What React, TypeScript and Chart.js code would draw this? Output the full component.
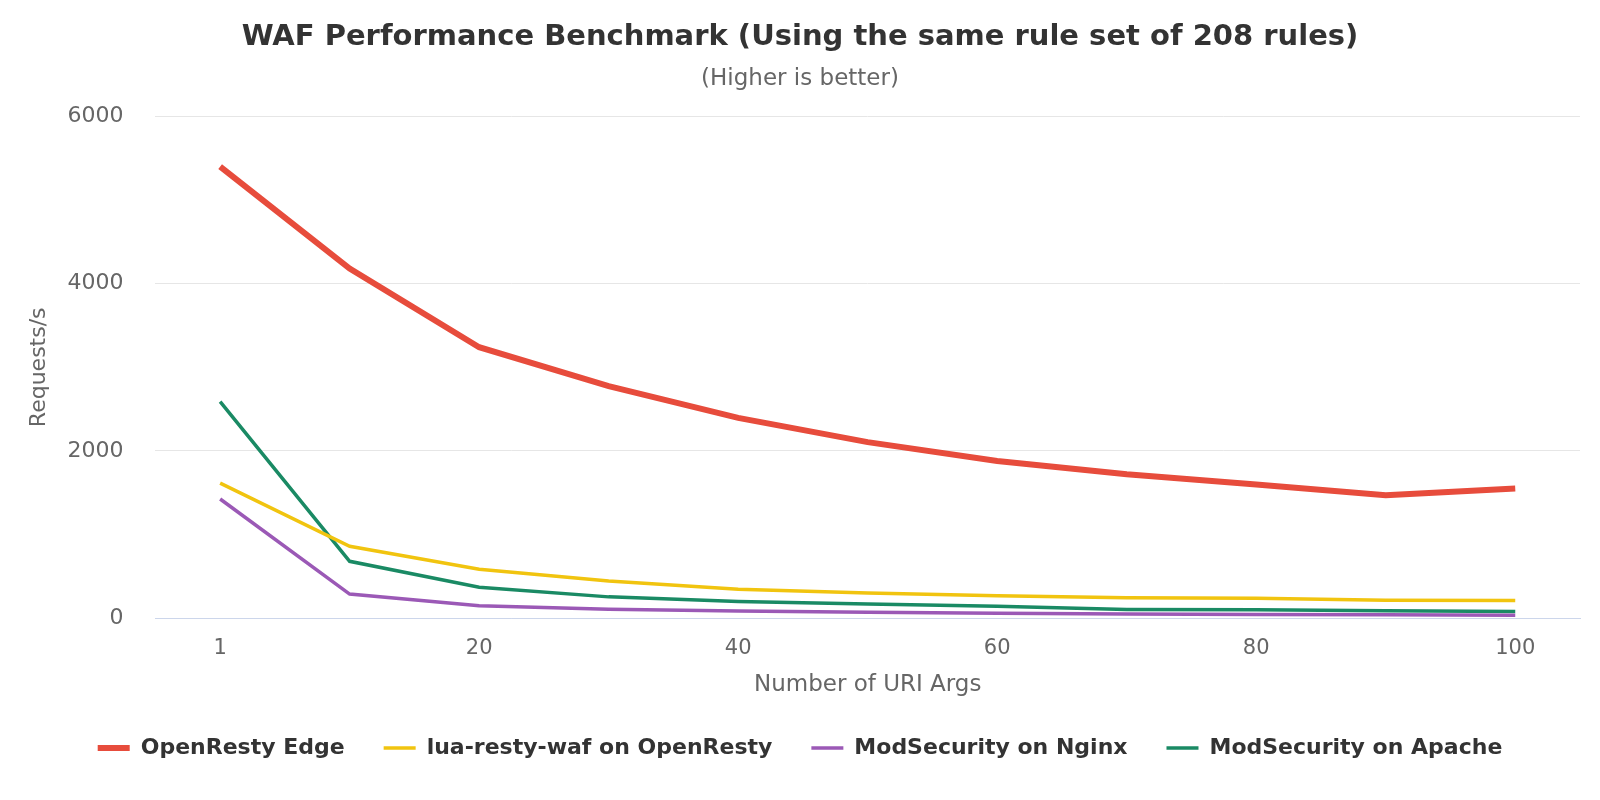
import { useEffect, useRef } from 'react';
import Chart from 'chart.js/auto';

const argCounts = ['1', '10', '20', '30', '40', '50', '60', '70', '80', '90', '100'];
const openrestyEdge = [5400, 4180, 3240, 2775, 2395, 2105, 1880, 1720, 1600, 1470, 1550];
const luaRestyWaf = [1615, 860, 585, 445, 345, 300, 268, 245, 238, 215, 212];
const modsecNginx = [1425, 288, 150, 108, 85, 72, 58, 50, 45, 40, 36];
const modsecApache = [2590, 680, 370, 255, 200, 170, 143, 105, 100, 90, 80];
const yTicks = [0, 2000, 4000, 6000];

const FONT = "'DejaVu Sans', sans-serif";

const App = () => {
  const chartRef = useRef<HTMLCanvasElement>(null);
  const chartInstance = useRef<Chart | null>(null);

  useEffect(() => {
    document.body.style.margin = '0';
    if (chartRef.current) {
      if (chartInstance.current) {
        chartInstance.current.destroy();
      }

      chartInstance.current = new Chart(chartRef.current, {
        type: 'line',
        data: {
          labels: argCounts,
          datasets: [
            {
              label: 'OpenResty Edge',
              data: openrestyEdge,
              borderColor: '#e74c3c',
              backgroundColor: '#e74c3c',
              borderWidth: 6,
              pointRadius: 0,
            },
            {
              label: 'lua-resty-waf on OpenResty',
              data: luaRestyWaf,
              borderColor: '#f1c40f',
              backgroundColor: '#f1c40f',
              borderWidth: 3.5,
              pointRadius: 0,
            },
            {
              label: 'ModSecurity on Nginx',
              data: modsecNginx,
              borderColor: '#9b59b6',
              backgroundColor: '#9b59b6',
              borderWidth: 3.5,
              pointRadius: 0,
            },
            {
              label: 'ModSecurity on Apache',
              data: modsecApache,
              borderColor: '#1a8a64',
              backgroundColor: '#1a8a64',
              borderWidth: 3.5,
              pointRadius: 0,
            },
          ],
        },
        options: {
          animation: false,
          responsive: true,
          maintainAspectRatio: false,
          devicePixelRatio: 1,
          layout: { padding: { left: 0, right: 0, top: 0, bottom: 31 } },
          plugins: {
            title: {
              display: true,
              text: 'WAF Performance Benchmark (Using the same rule set of 208 rules)',
              color: '#333333',
              font: { family: FONT, size: 29, weight: 'bold' },
              padding: { top: 20, bottom: 10 },
            },
            subtitle: {
              display: true,
              text: '(Higher is better)',
              color: '#666666',
              font: { family: FONT, size: 23 },
              padding: { top: 0, bottom: 24 },
            },
            legend: {
              position: 'bottom',
              labels: {
                usePointStyle: true,
                pointStyle: 'line',
                pointStyleWidth: 32,
                padding: 39,
                color: '#333333',
                font: { family: FONT, size: 22, weight: 'bold' },
              },
            },
            tooltip: { enabled: false },
          },
          scales: {
            x: {
              offset: true,
              grid: { display: false, drawTicks: false },
              border: { display: true, color: '#ccd6eb', width: 1 },
              ticks: {
                autoSkip: false,
                maxRotation: 0,
                padding: 18,
                color: '#666666',
                font: { family: FONT, size: 21 },
                callback: (_v, i) => (i % 2 === 0 ? argCounts[i] : ''),
              },
              title: {
                display: true,
                text: 'Number of URI Args',
                color: '#666666',
                font: { family: FONT, size: 23 },
                padding: { top: -8, bottom: -1 },
              },
            },
            y: {
              min: 0,
              max: 6000,
              afterBuildTicks: (axis) => {
                axis.ticks = yTicks.map((v) => ({ value: v }));
              },
              grid: {
                drawTicks: false,
                color: (ctx) => (ctx.tick && ctx.tick.value === 0 ? '#ccd6eb' : '#e6e6e6'),
              },
              border: { display: false },
              ticks: {
                padding: 32,
                color: '#666666',
                font: { family: FONT, size: 22 },
                callback: (v) => String(v),
              },
              title: {
                display: true,
                text: 'Requests/s',
                color: '#666666',
                font: { family: FONT, size: 22 },
                padding: { top: 26, bottom: -17 },
              },
            },
            // empty right-hand gutter so the plot stops short of the edge
            gutter: {
              type: 'linear',
              position: 'right',
              display: true,
              grid: { display: false, drawTicks: false },
              border: { display: false },
              ticks: { display: false },
              afterFit: (axis) => {
                axis.width = 20;
              },
            },
          },
        },
      });
    }

    return () => {
      if (chartInstance.current) {
        chartInstance.current.destroy();
        chartInstance.current = null;
      }
    };
  }, []);

  return (
    <div style={{ width: '1600px', height: '800px', position: 'relative' }}>
      <canvas ref={chartRef} />
    </div>
  );
};

export default App;
